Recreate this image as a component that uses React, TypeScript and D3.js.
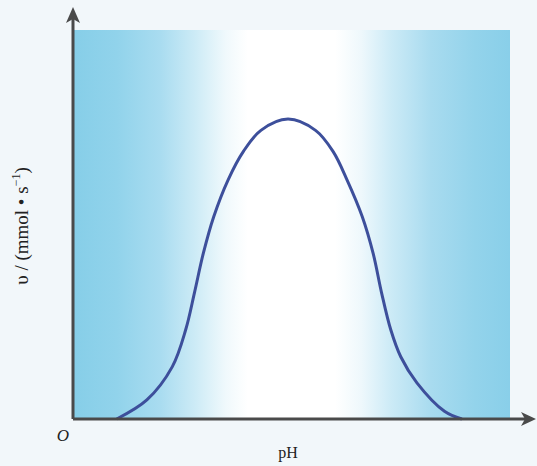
import React from "react";
import * as d3 from "d3";

const phValues = [1.0, 1.69, 2.27, 2.58, 2.78, 2.98, 3.22, 3.55, 3.9, 4.3, 4.92, 5.55, 5.95, 6.27, 6.62, 6.87, 7.06, 7.27, 7.5, 7.87, 8.5, 8.9];
const rateValues = [0.0, 0.49, 1.34, 2.3, 3.25, 4.25, 5.2, 6.15, 6.88, 7.42, 7.71, 7.42, 6.88, 6.15, 5.2, 4.25, 3.25, 2.3, 1.6, 0.93, 0.2, 0.0];
const xLabel = "pH";
const originLabel = "O";

const W = 537;
const H = 466;
const left = 73;
const right = 510;
const top = 30;
const bottom = 419;

export default function App() {
  const x = d3.scaleLinear().domain([0, 10]).range([left, right]);
  const y = d3.scaleLinear().domain([0, 10]).range([bottom, top]);
  const pts: [number, number][] = phValues.map((p, i) => [p, rateValues[i]]);
  const line = d3
    .line<[number, number]>()
    .x((d) => x(d[0]))
    .y((d) => y(d[1]))
    .curve(d3.curveCatmullRom.alpha(0.5));
  const axisColor = "#4a4a4a";
  return (
    <svg
      width={W}
      height={H}
      style={{ position: "absolute", left: 0, top: 0, display: "block" }}
      fontFamily="'Liberation Serif', 'DejaVu Serif', serif"
    >
      <defs>
        <linearGradient id="bg" x1="0" x2="1" y1="0" y2="0">
          <stop offset="0%" stopColor="#86cee8" />
          <stop offset="10%" stopColor="#91d3eb" />
          <stop offset="20%" stopColor="#a9dcf0" />
          <stop offset="28%" stopColor="#cdebf6" />
          <stop offset="35%" stopColor="#f0f9fc" />
          <stop offset="40%" stopColor="#ffffff" />
          <stop offset="60%" stopColor="#ffffff" />
          <stop offset="66%" stopColor="#eef8fc" />
          <stop offset="73%" stopColor="#cbeaf6" />
          <stop offset="82%" stopColor="#a8dbef" />
          <stop offset="92%" stopColor="#93d3eb" />
          <stop offset="100%" stopColor="#89cfe9" />
        </linearGradient>
      </defs>
      <rect x={0} y={0} width={W} height={H} fill="#f2f7fa" />
      <rect x={left} y={top} width={right - left} height={bottom - top} fill="url(#bg)" />
      <path d={line(pts) || ""} fill="none" stroke="#3d4f9b" strokeWidth={3} />
      <line x1={left} y1={bottom} x2={528} y2={bottom} stroke={axisColor} strokeWidth={3} />
      <line x1={left} y1={bottom} x2={left} y2={16} stroke={axisColor} strokeWidth={3} />
      <path d={`M${536},${bottom} L${521},${bottom - 7} L${525},${bottom} L${521},${bottom + 7} Z`} fill={axisColor} />
      <path d={`M${left},${7} L${left - 7},${23} L${left},${19} L${left + 7},${23} Z`} fill={axisColor} />
      <text x={63} y={441} fontSize={17} fontStyle="italic" textAnchor="middle" fill="#222">
        {originLabel}
      </text>
      <text x={288} y={458} fontSize={16} textAnchor="middle" fill="#222">
        {xLabel}
      </text>
      <text
        transform="translate(28,226) rotate(-90)"
        fontSize={19}
        textAnchor="middle"
        fill="#222"
      >
        υ / (mmol • s
        <tspan dy={-8} fontSize={12}>−1</tspan>
        <tspan dy={8}>)</tspan>
      </text>
    </svg>
  );
}
